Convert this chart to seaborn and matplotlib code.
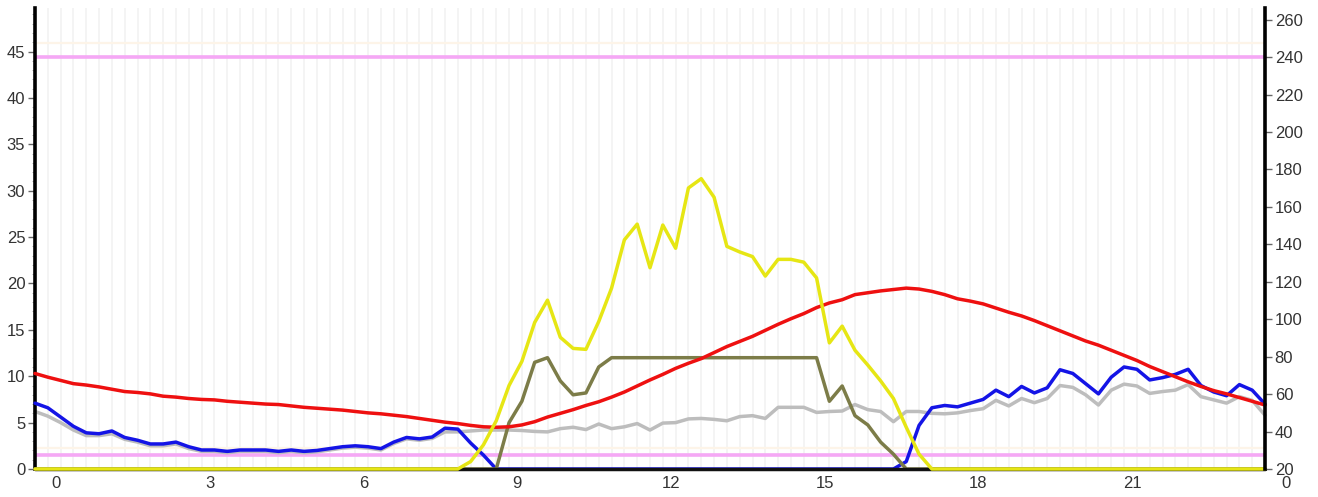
import matplotlib
matplotlib.use("Agg")
import matplotlib.pyplot as plt
import matplotlib.transforms as mtransforms
from matplotlib.ticker import MultipleLocator
import pandas as pd
import seaborn as sns

# 15-minute samples over one day
hours = [i * 0.25 for i in range(97)]

tick_hours = [0, 3, 6, 9, 12, 15, 18, 21, 24]
tick_labels = ["0", "3", "6", "9", "12", "15", "18", "21", "0"]

left_ticks = [0, 5, 10, 15, 20, 25, 30, 35, 40, 45]
right_ticks = [20, 40, 60, 80, 100, 120, 140, 160, 180, 200, 220, 240, 260]

# reference levels (right-axis units)
upper_limit = 240
lower_limit = 27.5

red = [
    10.3, 9.9, 9.55, 9.2, 9.05, 8.85, 8.6, 8.35,
    8.25, 8.1, 7.85, 7.75, 7.6, 7.5, 7.45, 7.3,
    7.2, 7.1, 7.0, 6.95, 6.8, 6.65, 6.55, 6.45,
    6.35, 6.2, 6.05, 5.95, 5.8, 5.65, 5.45, 5.25,
    5.05, 4.9, 4.7, 4.55, 4.5, 4.55, 4.75, 5.1,
    5.6, 6.0, 6.4, 6.85, 7.25, 7.75, 8.3, 8.95,
    9.6, 10.2, 10.85, 11.4, 11.9, 12.55, 13.2, 13.75,
    14.3, 14.95, 15.6, 16.2, 16.75, 17.4, 17.9, 18.25,
    18.8, 19.0, 19.2, 19.35, 19.5, 19.4, 19.15, 18.8,
    18.35, 18.1, 17.8, 17.35, 16.9, 16.5, 16.0, 15.45,
    14.9, 14.35, 13.8, 13.35, 12.8, 12.25, 11.7, 11.05,
    10.5, 9.95, 9.4, 8.9, 8.45, 8.1, 7.7, 7.3,
    6.9,
]

blue = [
    7.1, 6.6, 5.6, 4.6, 3.9, 3.8, 4.1, 3.4,
    3.1, 2.7, 2.7, 2.9, 2.4, 2.05, 2.05, 1.9,
    2.05, 2.05, 2.05, 1.9, 2.05, 1.9, 2.0, 2.2,
    2.4, 2.5, 2.4, 2.2, 2.9, 3.4, 3.25, 3.45,
    4.4, 4.3, 2.8, 1.5, 0.0, 0.0, 0.0, 0.0,
    0.0, 0.0, 0.0, 0.0, 0.0, 0.0, 0.0, 0.0,
    0.0, 0.0, 0.0, 0.0, 0.0, 0.0, 0.0, 0.0,
    0.0, 0.0, 0.0, 0.0, 0.0, 0.0, 0.0, 0.0,
    0.0, 0.0, 0.0, 0.0, 0.8, 4.7, 6.6, 6.85,
    6.7, 7.1, 7.5, 8.5, 7.8, 8.9, 8.2, 8.75,
    10.7, 10.3, 9.2, 8.1, 9.9, 11.0, 10.75, 9.6,
    9.85, 10.2, 10.75, 9.0, 8.3, 7.9, 9.1, 8.5,
    7.0,
]

gray = [
    6.2, 5.7, 5.0, 4.2, 3.6, 3.6, 3.8, 3.2,
    2.9, 2.5, 2.5, 2.7, 2.2, 1.9, 1.9, 1.75,
    1.9, 1.9, 1.9, 1.75, 1.9, 1.75, 1.85, 2.05,
    2.25, 2.35, 2.25, 2.05, 2.75, 3.25, 3.1, 3.3,
    4.0, 4.0, 4.1, 4.2, 4.2, 4.2, 4.15, 4.05,
    4.0, 4.35, 4.5, 4.25, 4.85, 4.35, 4.55, 4.9,
    4.2, 4.95, 5.0, 5.4, 5.45, 5.35, 5.2, 5.65,
    5.75, 5.45, 6.65, 6.65, 6.65, 6.1, 6.2, 6.25,
    6.95, 6.4, 6.2, 5.1, 6.2, 6.2, 6.0, 5.95,
    6.05, 6.3, 6.5, 7.4, 6.8, 7.6, 7.15, 7.6,
    9.0, 8.8, 8.0, 6.9, 8.5, 9.15, 8.95, 8.15,
    8.35, 8.5, 9.1, 7.8, 7.45, 7.1, 7.8, 7.4,
    5.8,
]

yellow = [
    0.0, 0.0, 0.0, 0.0, 0.0, 0.0, 0.0, 0.0,
    0.0, 0.0, 0.0, 0.0, 0.0, 0.0, 0.0, 0.0,
    0.0, 0.0, 0.0, 0.0, 0.0, 0.0, 0.0, 0.0,
    0.0, 0.0, 0.0, 0.0, 0.0, 0.0, 0.0, 0.0,
    0.0, 0.0, 0.8, 2.6, 5.2, 9.0, 11.6, 15.8,
    18.2, 14.2, 13.0, 12.9, 15.9, 19.5, 24.7, 26.4,
    21.7, 26.3, 23.8, 30.3, 31.3, 29.3, 24.0, 23.4,
    22.9, 20.8, 22.6, 22.6, 22.3, 20.6, 13.6, 15.4,
    12.8, 11.2, 9.5, 7.6, 4.5, 1.6, 0.0, 0.0,
    0.0, 0.0, 0.0, 0.0, 0.0, 0.0, 0.0, 0.0,
    0.0, 0.0, 0.0, 0.0, 0.0, 0.0, 0.0, 0.0,
    0.0, 0.0, 0.0, 0.0, 0.0, 0.0, 0.0, 0.0,
    0.0,
]

olive = [
    0.0, 0.0, 0.0, 0.0, 0.0, 0.0, 0.0, 0.0,
    0.0, 0.0, 0.0, 0.0, 0.0, 0.0, 0.0, 0.0,
    0.0, 0.0, 0.0, 0.0, 0.0, 0.0, 0.0, 0.0,
    0.0, 0.0, 0.0, 0.0, 0.0, 0.0, 0.0, 0.0,
    0.0, 0.0, 0.0, 0.0, 0.0, 5.0, 7.3, 11.5,
    12.0, 9.5, 8.0, 8.2, 11.0, 12.0, 12.0, 12.0,
    12.0, 12.0, 12.0, 12.0, 12.0, 12.0, 12.0, 12.0,
    12.0, 12.0, 12.0, 12.0, 12.0, 12.0, 7.3, 8.95,
    5.75, 4.75, 2.9, 1.6, 0.0, 0.0, 0.0, 0.0,
    0.0, 0.0, 0.0, 0.0, 0.0, 0.0, 0.0, 0.0,
    0.0, 0.0, 0.0, 0.0, 0.0, 0.0, 0.0, 0.0,
    0.0, 0.0, 0.0, 0.0, 0.0, 0.0, 0.0, 0.0,
    0.0,
]

black = [
    0.0, 0.0, 0.0, 0.0, 0.0, 0.0, 0.0, 0.0,
    0.0, 0.0, 0.0, 0.0, 0.0, 0.0, 0.0, 0.0,
    0.0, 0.0, 0.0, 0.0, 0.0, 0.0, 0.0, 0.0,
    0.0, 0.0, 0.0, 0.0, 0.0, 0.0, 0.0, 0.0,
    0.0, 0.0, 0.0, 0.0, 0.0, 0.0, 0.0, 0.0,
    0.0, 0.0, 0.0, 0.0, 0.0, 0.0, 0.0, 0.0,
    0.0, 0.0, 0.0, 0.0, 0.0, 0.0, 0.0, 0.0,
    0.0, 0.0, 0.0, 0.0, 0.0, 0.0, 0.0, 0.0,
    0.0, 0.0, 0.0, 0.0, 0.0, 0.0, 0.0, 0.0,
    0.0, 0.0, 0.0, 0.0, 0.0, 0.0, 0.0, 0.0,
    0.0, 0.0, 0.0, 0.0, 0.0, 0.0, 0.0, 0.0,
    0.0, 0.0, 0.0, 0.0, 0.0, 0.0, 0.0, 0.0,
    0.0,
]

df = pd.DataFrame({
    "hour": hours, "red": red, "blue": blue, "gray": gray,
    "yellow": yellow, "olive": olive, "black": black,
})

sns.set_theme(style="white")
plt.rcParams["font.family"] = ["Liberation Sans", "DejaVu Sans"]

fig = plt.figure(figsize=(13.18, 4.97), dpi=100)
fig.patch.set_facecolor("white")
ax = fig.add_axes([35 / 1318, 28 / 497, 1230 / 1318, 461 / 497])
ax2 = ax.twinx()

left_max = 49.7
right_min, right_max = 20, 266.2
ax.set_xlim(0, 24)
ax.set_ylim(0, left_max)
ax2.set_ylim(right_min, right_max)

# light vertical stripes every quarter hour
ax.set_xticks(tick_hours)
ax.xaxis.set_minor_locator(MultipleLocator(0.25))
ax.grid(axis="x", which="both", color="#f3f3f3", linewidth=1.3)
ax.grid(axis="y", visible=False)
ax.set_axisbelow(True)

# threshold lines, converted from right-axis units
def to_left(v):
    return (v - right_min) / (right_max - right_min) * left_max

ax.axhline(to_left(upper_limit), color="#f5a8f5", linewidth=2.6, zorder=1.5)
ax.axhline(to_left(lower_limit), color="#f5a8f5", linewidth=2.6, zorder=1.5)
ax.axhline(45.95, color="#fdf4e8", linewidth=1.6, zorder=1.4)
ax.axhline(2.3, color="#fdf4e8", linewidth=1.6, zorder=1.4)

series = [
    ("gray", "#bdbdbd", 2),
    ("blue", "#1414e6", 3),
    ("olive", "#7c7c48", 4),
    ("black", "#111111", 5),
    ("red", "#ee1010", 6),
    ("yellow", "#e6e614", 7),
]
for col, color, z in series:
    sns.lineplot(data=df, x="hour", y=col, ax=ax, color=color,
                 linewidth=2.5, zorder=z, legend=False, clip_on=False)

ax.set_xlabel("")
ax.set_ylabel("")
ax2.set_ylabel("")

ax.set_xticklabels(tick_labels)
ax.set_yticks(left_ticks)
ax.yaxis.set_minor_locator(MultipleLocator(1))
ax2.set_yticks(right_ticks)

for s in ["top", "bottom", "right"]:
    ax.spines[s].set_visible(False)
for s in ["top", "bottom", "left"]:
    ax2.spines[s].set_visible(False)
ax.spines["left"].set_color("black")
ax.spines["left"].set_linewidth(2.6)
ax2.spines["right"].set_color("black")
ax2.spines["right"].set_linewidth(2.6)

ax.tick_params(axis="x", which="both", length=0, pad=5,
               labelsize=12, labelcolor="#333333", bottom=False)
ax.tick_params(axis="y", which="major", left=True, length=5, width=1,
               color="#666666", pad=2, labelsize=12, labelcolor="#333333")
ax.tick_params(axis="y", which="minor", left=True, length=2.5, width=0.7,
               color="#b0b0b0")
ax2.tick_params(axis="y", which="major", right=True, length=5, width=1,
                color="#666666", pad=2, labelsize=12, labelcolor="#333333")

# hour labels sit a little to the right of their tick position
shift = mtransforms.ScaledTranslation(0.21, 0, fig.dpi_scale_trans)
for lab in ax.get_xticklabels():
    lab.set_transform(lab.get_transform() + shift)

fig.savefig("out.png", dpi=100, facecolor="white")
